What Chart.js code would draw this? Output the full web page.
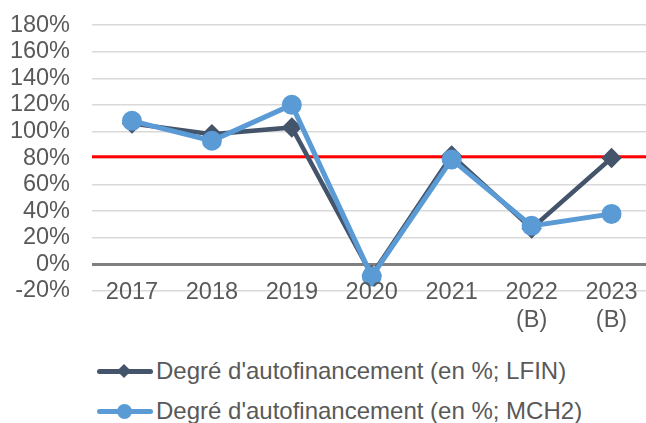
<!DOCTYPE html>
<html>
<head>
<meta charset="utf-8">
<script src="https://cdn.jsdelivr.net/npm/chart.js@4"></script>
<style>
  body { margin: 0; background: #fff; overflow: hidden; width: 646px; height: 423px; position: relative; }
  #wrap { position: absolute; left: 0; top: -11px; width: 664px; height: 357px; }
  .legend { position: absolute; left: 97px; font-family: "Liberation Sans", Arial, sans-serif; font-size: 24px; color: #595959; }
  .item { position: absolute; left: 0; white-space: nowrap; height: 28px; line-height: 28px; }
  .sample { position: absolute; left: 0; top: 12px; width: 56px; height: 5px; border-radius: 3px; }
  .mark { position: absolute; }
  .txt { position: absolute; left: 59px; top: 0; }
</style>
</head>
<body>
<div id="wrap"><canvas id="chart1" width="664" height="357"></canvas></div>
<div class="legend">
  <div class="item" style="top:357px">
    <div class="sample" style="background:#44546a"></div>
    <div class="mark" style="left:22px;top:9px;width:10px;height:10px;background:#44546a;transform:rotate(45deg)"></div>
    <span class="txt">Degré d'autofinancement (en %; LFIN)</span>
  </div>
  <div class="item" style="top:397px">
    <div class="sample" style="background:#5b9bd5"></div>
    <div class="mark" style="left:20px;top:7px;width:15px;height:15px;border-radius:50%;background:#5b9bd5"></div>
    <span class="txt">Degré d'autofinancement (en %; MCH2)</span>
  </div>
</div>
<script>
const years = [['2017'], ['2018'], ['2019'], ['2020'], ['2021'], ['2022', '(B)'], ['2023', '(B)']];
const lfin = [106, 98, 103, -8, 82, 27, 80];
const mch2 = [108, 93, 120, -9, 79, 29, 38];
const threshold = 81;
const yTicks = [-20, 0, 20, 40, 60, 80, 100, 120, 140, 160, 180];

const redLine = {
    id: 'redLine',
    beforeDatasetsDraw(chart) {
        const y = chart.scales.y.getPixelForValue(threshold);
        const c = chart.ctx;
        c.save();
        c.strokeStyle = '#ff0000';
        c.lineWidth = 3;
        c.beginPath();
        c.moveTo(chart.chartArea.left, y);
        c.lineTo(chart.chartArea.right, y);
        c.stroke();
        c.restore();
    }
};

// x labels sit over the -20% gridline, so draw them here (the axis clips its own labels)
const xLabels = {
    id: 'xLabels',
    afterDraw(chart) {
        const xs = chart.scales.x;
        const c = chart.ctx;
        c.save();
        c.fillStyle = '#595959';
        c.font = '23.5px "Liberation Sans"';
        c.textAlign = 'center';
        c.textBaseline = 'middle';
        years.forEach((lines, i) => {
            const x = xs.getPixelForValue(i);
            lines.forEach((t, j) => c.fillText(t, x, xs.top + 1.5 + j * 28.5));
        });
        c.restore();
    }
};

const ctx = document.getElementById('chart1').getContext('2d');
new Chart(ctx, {
    type: 'line',
    data: {
        labels: years,
        datasets: [{
            label: "Degré d'autofinancement (en %; LFIN)",
            data: lfin,
            borderColor: '#44546a',
            backgroundColor: '#44546a',
            borderWidth: 4.5,
            pointStyle: 'rectRot',
            pointRadius: 7,
            tension: 0,
            order: 2
        }, {
            label: "Degré d'autofinancement (en %; MCH2)",
            data: mch2,
            borderColor: '#5b9bd5',
            backgroundColor: '#5b9bd5',
            borderWidth: 5,
            pointStyle: 'circle',
            pointRadius: 7.5,
            tension: 0,
            order: 1
        }]
    },
    options: {
        responsive: false,
        animation: false,
        layout: { padding: { top: 0, left: 0, right: 0, bottom: 0 } },
        plugins: { legend: { display: false }, tooltip: { enabled: false } },
        scales: {
            x: {
                offset: true,
                afterFit(scale) { scale.height = 55; },
                grid: { display: false },
                border: { display: false },
                ticks: { display: false }
            },
            y: {
                min: -20,
                max: 180,
                afterFit(scale) { scale.width = 92; },
                afterBuildTicks(scale) { scale.ticks = yTicks.map(v => ({ value: v })); },
                border: { display: false },
                grid: {
                    drawTicks: false,
                    color: c => c.tick.value === 0 ? '#808080' : '#d9d9d9',
                    lineWidth: c => c.tick.value === 0 ? 3 : 1.5
                },
                ticks: {
                    color: '#595959',
                    font: { family: 'Liberation Sans', size: 23.5 },
                    padding: 22,
                    autoSkip: false,
                    callback: v => v + '%'
                }
            }
        }
    },
    plugins: [redLine, xLabels]
});
</script>
</body>
</html>
